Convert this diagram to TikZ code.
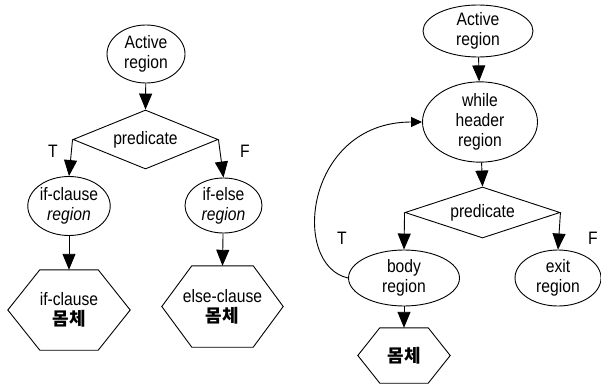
\documentclass[tikz,border=0pt]{standalone}
\usepackage{fontspec}
\setmainfont{Liberation Sans}[FakeStretch=0.87]
\newfontfamily\kr{Noto Sans CJK KR}
\usetikzlibrary{shapes.geometric,arrows.meta}

\tikzset{
  region/.style={draw, ellipse, inner sep=0pt, align=center, line width=0.9pt},
  pred/.style={draw, diamond, inner sep=0pt, aspect=2.6, line width=0.9pt},
  hexbox/.style={inner sep=0pt, align=center},
  flow/.style={-{Triangle[length=16pt,width=13pt]}, line width=0.9pt},
  back/.style={-{Triangle[length=11pt,width=10pt]}, line width=0.9pt},
  tf/.style={inner sep=0pt}
}
\newcommand{\hexline}[2]{% node name, tip
  \draw[line width=0.9pt] (#1.west) -- ([xshift=#2]#1.north west) -- ([xshift=-#2]#1.north east)
    -- (#1.east) -- ([xshift=-#2]#1.south east) -- ([xshift=#2]#1.south west) -- cycle;}

\begin{document}
\begin{tikzpicture}[x=1pt, y=-1pt, font=\fontsize{18}{20}\selectfont]
\useasboundingbox (0,0) rectangle (601,385);

% if - else
\node (act1) [region, minimum width=78pt, minimum height=58pt] at (146,54) {Active\\region};
\node (pred1) [pred, minimum width=145pt, minimum height=59pt] at (145.5,139.5) {predicate};
\node (ifc) [region, minimum width=78pt, minimum height=59pt] at (69,206) {if-clause\\\textit{region}};
\node (ife) [region, minimum width=77pt, minimum height=55pt] at (223.5,205.5) {if-else\\\textit{region}};
\node (ifbody) [hexbox, minimum width=122pt, minimum height=80pt] at (69,310) {if-clause\\{\kr\bfseries 몸체}};
\node (elsebody) [hexbox, minimum width=121pt, minimum height=81pt] at (222.5,306.5) {else-clause\\{\kr\bfseries 몸체}};
\hexline{ifbody}{32pt}
\hexline{elsebody}{30pt}
\node (t1) [tf] at (53,151) {T};
\node (f1) [tf] at (245,151) {F};

\draw[flow] (act1) -- (pred1.north);
\draw[flow] (pred1.west) -- (ifc.north);
\draw[flow] (pred1.east) -- (ife.north);
\draw[flow] (ifc) -- (ifbody.north);
\draw[flow] (ife) -- (elsebody.north);

% while
\node (act2) [region, minimum width=110pt, minimum height=52pt] at (478,31) {Active\\region};
\node (whl) [region, minimum width=115pt, minimum height=67pt] at (480,122) {while\\header\\region};
\node (pred2) [pred, minimum width=155pt, minimum height=51pt] at (482.5,212.5) {predicate};
\node (body) [region, minimum width=111pt, minimum height=56pt] at (404,278) {body\\region};
\node (exit) [region, minimum width=86pt, minimum height=56pt] at (558,278) {exit\\region};
\node (loopbody) [hexbox, minimum width=92pt, minimum height=55pt] at (404,355.5) {{\kr\bfseries 몸체}};
\hexline{loopbody}{22pt}
\node (t2) [tf] at (342,238) {T};
\node (f2) [tf] at (593,238) {F};

\draw[flow] (act2) -- (whl);
\draw[flow] (whl) -- (pred2.north);
\draw[flow] (pred2.west) -- (body.north);
\draw[flow] (pred2.east) -- (exit.north);
\draw[flow] (body) -- (loopbody.north);
\draw[back] (body.west) .. controls (290,265) and (305,122) .. (whl.west);
\end{tikzpicture}
\end{document}
